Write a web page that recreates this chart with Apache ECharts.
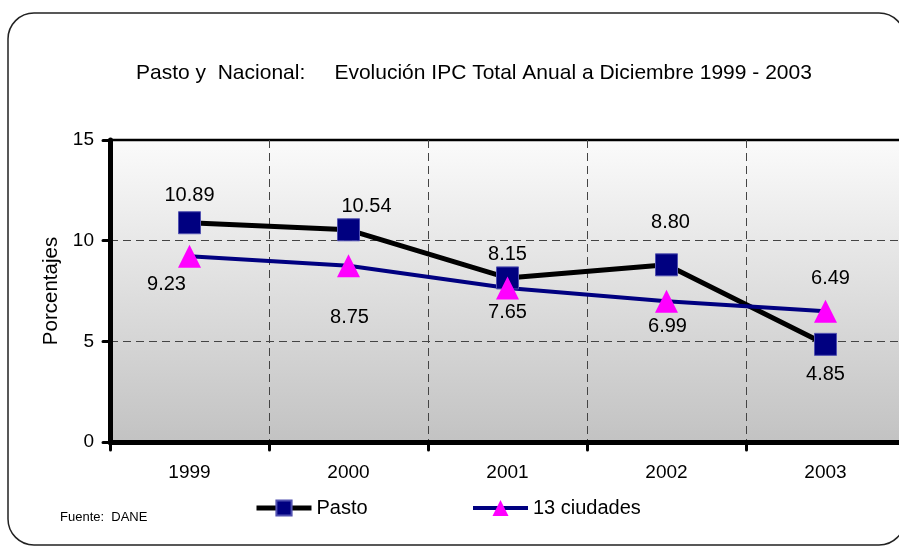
<!DOCTYPE html>
<html>
<head>
<meta charset="utf-8">
<script src="https://cdn.jsdelivr.net/npm/echarts@6/dist/echarts.min.js"></script>
<style>html,body{margin:0;padding:0;background:#fff}#c{width:899px;height:547px}</style>
</head>
<body>
<div id="c"></div>
<script>
const categories = ['1999', '2000', '2001', '2002', '2003'];
const pasto = [10.89, 10.54, 8.15, 8.80, 4.85];
const ciudades = [9.23, 8.75, 7.65, 6.99, 6.49];
const yMin = 0, yMax = 15, yStep = 5;

const pastoLabelOffsets = [[0, -27], [18, -23], [0, -23], [4, -42], [0, 30]];
const ciudadesLabelOffsets = [[-23, 28], [1, 52], [0, 25], [1, 25], [5, -33]];

const FONT = 'Liberation Sans, Arial, sans-serif';
const chart = echarts.init(document.getElementById('c'), null, {renderer: 'canvas'});

const labelBase = {
  show: true, position: 'inside', fontSize: 20, color: '#000', fontFamily: FONT,
  formatter: p => Number(p.value).toFixed(2)
};

chart.setOption({
  animation: false,
  backgroundColor: '#fff',
  title: {
    text: 'Pasto y  Nacional:     Evolución IPC Total Anual a Diciembre 1999 - 2003',
    left: 136, top: 63, padding: 0,
    textStyle: {fontSize: 21, fontWeight: 'normal', color: '#000', fontFamily: FONT}
  },
  graphic: [
    {type: 'rect', shape: {x: 8, y: 13, width: 897, height: 532, r: 26},
     style: {fill: 'none', stroke: '#222', lineWidth: 1.5}, z: 100},
    {type: 'text', left: 60, top: 511,
     style: {text: 'Fuente:  DANE', fontSize: 13, fill: '#000', fontFamily: FONT}}
  ],
  legend: [
    {data: ['Pasto'], left: 254, top: 498, padding: 0, itemWidth: 55, itemHeight: 19,
     lineStyle: {width: 5}, textStyle: {fontSize: 20, color: '#000', fontFamily: FONT}},
    {data: ['13 ciudades'], left: 471, top: 498, padding: 0, itemWidth: 55, itemHeight: 20,
     lineStyle: {width: 4}, textStyle: {fontSize: 20, color: '#000', fontFamily: FONT}}
  ],
  grid: {
    left: 110, width: 795, top: 140, bottom: 105, show: true,
    outerBoundsMode: 'none', containLabel: false,
    borderColor: '#000', borderWidth: 2.5,
    backgroundColor: {type: 'linear', x: 0, y: 0, x2: 0, y2: 1,
      colorStops: [{offset: 0, color: '#fbfbfb'}, {offset: 1, color: '#c2c2c2'}]}
  },
  xAxis: {
    type: 'category', data: categories, boundaryGap: true,
    axisLine: {lineStyle: {color: '#000', width: 5}},
    axisTick: {show: true, length: 8, lineStyle: {color: '#000', width: 3, cap: 'round'}},
    axisLabel: {fontSize: 19, color: '#000', margin: 21, fontFamily: FONT},
    splitLine: {show: true, lineStyle: {color: '#444', width: 1, type: [8, 5]}}
  },
  yAxis: {
    type: 'value', min: yMin, max: yMax, interval: yStep,
    name: 'Porcentajes', nameLocation: 'middle', nameGap: 48, nameRotate: 90,
    nameTextStyle: {fontSize: 20.5, color: '#000', fontFamily: FONT},
    axisLine: {show: true, lineStyle: {color: '#000', width: 5}},
    axisTick: {show: true, length: 7, lineStyle: {color: '#000', width: 3, cap: 'round'}},
    axisLabel: {fontSize: 19, color: '#000', margin: 16, fontFamily: FONT},
    splitLine: {show: true, lineStyle: {color: ['rgba(0,0,0,0)', '#444', '#444', 'rgba(0,0,0,0)'], width: 1, type: [8, 5]}}
  },
  series: [
    {
      name: 'Pasto', type: 'line',
      data: pasto.map((v, i) => ({value: v, label: {offset: pastoLabelOffsets[i]}})),
      symbol: 'rect', symbolSize: 22,
      lineStyle: {color: '#000', width: 5},
      itemStyle: {color: '#000080', borderColor: '#5050b0', borderWidth: 1},
      label: labelBase
    },
    {
      name: '13 ciudades', type: 'line',
      data: ciudades.map((v, i) => ({value: v, label: {offset: ciudadesLabelOffsets[i]}})),
      symbol: 'triangle', symbolSize: 23,
      lineStyle: {color: '#000080', width: 4},
      itemStyle: {color: '#ff00ff'},
      label: labelBase
    }
  ]
});
</script>
</body>
</html>
